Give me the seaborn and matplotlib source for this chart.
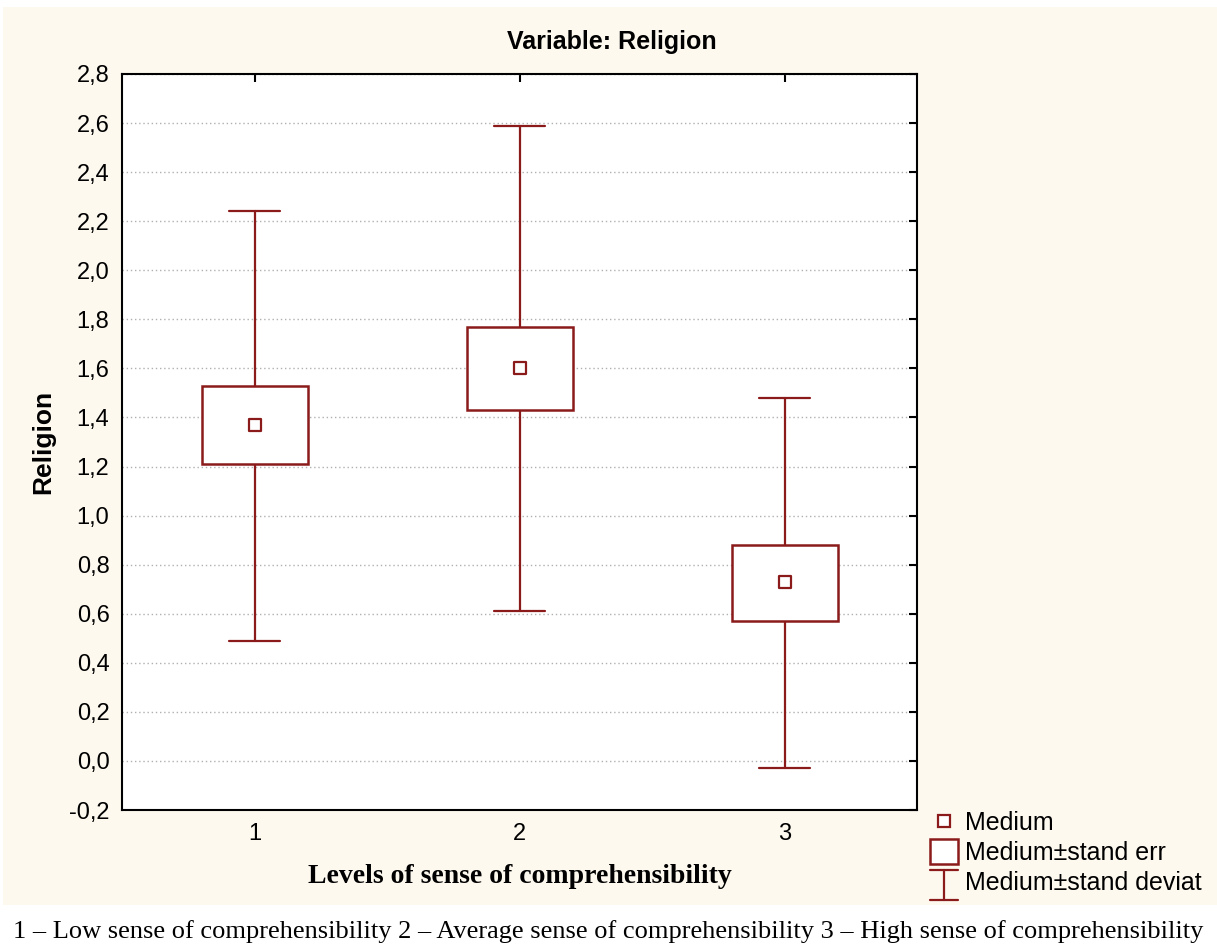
import seaborn as sns
import matplotlib.pyplot as plt
import matplotlib.patches as mpatches
from matplotlib.lines import Line2D
from matplotlib.legend_handler import HandlerBase
from matplotlib.ticker import FuncFormatter, MultipleLocator
import pandas as pd

# values
levels = [1, 2, 3]
means = [1.37, 1.60, 0.73]
se_low = [1.21, 1.43, 0.57]
se_high = [1.53, 1.77, 0.88]
sd_low = [0.49, 0.61, -0.03]
sd_high = [2.24, 2.59, 1.48]

dark_red = "#8b1a1a"
cream = "#fdf9ef"

df = pd.DataFrame({"level": levels, "mean": means,
                   "se_low": se_low, "se_high": se_high,
                   "sd_low": sd_low, "sd_high": sd_high})

sns.set_style("white")
plt.rcParams['font.family'] = ['Liberation Sans', 'DejaVu Sans']
plt.rcParams['text.color'] = "black"
plt.rcParams['axes.labelcolor'] = "black"
serif = ["Liberation Serif", "DejaVu Serif"]


class HandlerSD(HandlerBase):
    # little "I" shaped whisker glyph for the legend
    def create_artists(self, legend, orig, xd, yd, width, height, fontsize, trans):
        cx = xd + width / 2
        w = width * 1.0
        top = yd + height * 1.15
        bot = yd - height * 0.55
        arts = [Line2D([cx, cx], [bot, top]),
                Line2D([cx - w / 2, cx + w / 2], [top, top]),
                Line2D([cx - w / 2, cx + w / 2], [bot, bot])]
        for a in arts:
            a.set_color(dark_red)
            a.set_linewidth(1.6)
            a.set_transform(trans)
        return arts


class HandlerSE(HandlerBase):
    def create_artists(self, legend, orig, xd, yd, width, height, fontsize, trans):
        h = height * 1.45
        w = width * 1.0
        r = mpatches.Rectangle((xd + (width - w) / 2, yd + height / 2 - h / 2), w, h,
                               facecolor="white", edgecolor=dark_red, lw=1.8, transform=trans)
        return [r]


fig = plt.figure(figsize=(12.17, 9.52), dpi=100)
fig.patch.set_facecolor("white")
# cream panel behind the chart, caption sits on white below it
fig.patches.append(mpatches.Rectangle((3 / 1217, 1 - 905 / 952), 1 - 3 / 1217, (905 - 7) / 952,
                                      transform=fig.transFigure, facecolor=cream,
                                      edgecolor="none", zorder=-10))

ax = fig.add_axes([122 / 1217, 1 - 810 / 952, (917 - 122) / 1217, (810 - 74) / 952])
ax.set_facecolor("white")

box_w = 0.40
cap_w = 0.19
for _, r in df.iterrows():
    x = r["level"]
    # whiskers (sd)
    ax.plot([x, x], [r["sd_low"], r["se_low"]], color=dark_red, lw=1.6, zorder=3)
    ax.plot([x, x], [r["se_high"], r["sd_high"]], color=dark_red, lw=1.6, zorder=3)
    ax.plot([x - cap_w / 2, x + cap_w / 2], [r["sd_low"]] * 2, color=dark_red, lw=1.6, zorder=3)
    ax.plot([x - cap_w / 2, x + cap_w / 2], [r["sd_high"]] * 2, color=dark_red, lw=1.6, zorder=3)
    # box (se)
    ax.add_patch(mpatches.Rectangle((x - box_w / 2, r["se_low"]), box_w, r["se_high"] - r["se_low"],
                                    facecolor="white", edgecolor=dark_red, lw=1.8, zorder=4))

sns.scatterplot(data=df, x="level", y="mean", marker="s", s=70, facecolor="white",
                edgecolor=dark_red, linewidth=1.6, ax=ax, zorder=5, legend=False)

ax.set_xlim(0.5, 3.5)
ax.set_ylim(-0.2, 2.8)
ax.set_xticks(levels)
ax.yaxis.set_major_locator(MultipleLocator(0.2))
ax.yaxis.set_major_formatter(FuncFormatter(lambda v, p: f"{v:.1f}".replace(".", ",").replace("-0,0", "0,0")))
ax.grid(axis="y", color="#b0b0b0", linestyle=(0, (1, 2)), lw=1)
ax.tick_params(direction="in", length=6, width=1.5, labelsize=17, colors="black",
               top=True, right=True, pad=9)
for s in ax.spines.values():
    s.set_color("black")
    s.set_linewidth(1.5)

fig.text(612 / 1217, 1 - 42 / 952, "Variable: Religion", ha="center", va="center",
         fontsize=18, fontweight="bold")
ax.set_ylabel("Religion", fontsize=19, fontweight="bold", labelpad=10)
ax.set_xlabel("Levels of sense of comprehensibility", fontsize=20, fontweight="bold",
              family=serif, labelpad=14)

handles = [
    Line2D([], [], marker="s", linestyle="none", markersize=8, markerfacecolor="white",
           markeredgecolor=dark_red, markeredgewidth=1.6),
    mpatches.Rectangle((0, 0), 1, 1),
    Line2D([], []),
]
labels = ["Medium", "Medium\u00b1stand err", "Medium\u00b1stand deviat"]
fig.legend(handles, labels, loc="upper left", bbox_to_anchor=(920 / 1217, 1 - 801 / 952),
           frameon=False, fontsize=18, handlelength=1.1, handletextpad=0.3,
           labelspacing=0.25, borderaxespad=0,
           handler_map={handles[1]: HandlerSE(), handles[2]: HandlerSD()})

fig.text(0.5, 1 - 932 / 952,
         "1 \u2013 Low sense of comprehensibility 2 \u2013 Average sense of comprehensibility "
         "3 \u2013 High sense of comprehensibility",
         ha="center", va="center", fontsize=19, family=serif)

fig.savefig("out.png", dpi=100, facecolor=fig.get_facecolor())
